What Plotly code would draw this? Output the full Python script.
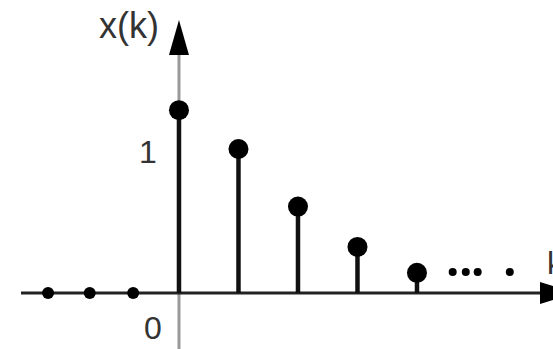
import plotly.graph_objects as go

# ---- data ----
k_pos = [0, 1, 2, 3, 4]
x_pos = [1.27, 1.0, 0.60, 0.32, 0.14]
k_neg = [-2.2, -1.5, -0.77]
x_neg = [0, 0, 0]
ellipsis_k = [4.6, 4.82, 5.02, 5.56]
ellipsis_x = [0.146, 0.146, 0.146, 0.146]

W, H = 553, 349
X0, X1 = -3.008, 6.286
Y0, Y1 = -0.389, 2.035
PX = W / (X1 - X0)   # pixels per unit k
PY = H / (Y1 - Y0)   # pixels per unit x(k)

def dx(p):
    return p / PX

def dy(p):
    return p / PY

fig = go.Figure()

# stems
sx, sy = [], []
for k, v in zip(k_pos, x_pos):
    sx += [k, k, None]
    sy += [0, v, None]
fig.add_trace(go.Scatter(x=sx, y=sy, mode="lines",
                         line=dict(color="#111", width=4.5), hoverinfo="skip"))
fig.add_trace(go.Scatter(x=k_pos, y=x_pos, mode="markers",
                         marker=dict(color="#000", size=20)))
fig.add_trace(go.Scatter(x=k_neg, y=x_neg, mode="markers",
                         marker=dict(color="#000", size=12)))
fig.add_trace(go.Scatter(x=ellipsis_k, y=ellipsis_x, mode="markers",
                         marker=dict(color="#000", size=8)))

tip_y = 1.896
shapes = [
    # vertical axis (gray)
    dict(type="line", xref="x", yref="y", x0=0, x1=0, y0=Y0, y1=tip_y - dy(20),
         line=dict(color="#9a9a9a", width=3), layer="below"),
    # horizontal axis
    dict(type="line", xref="x", yref="y", x0=X0 + dx(21), x1=X0 + dx(545), y0=0, y1=0,
         line=dict(color="#222", width=3), layer="below"),
    # up arrow head
    dict(type="path", xref="x", yref="y",
         path=f"M {-dx(10)},{tip_y - dy(35)} L {dx(10)},{tip_y - dy(35)} L 0,{tip_y} Z",
         fillcolor="#000", line=dict(width=0)),
    # right arrow head
    dict(type="path", xref="x", yref="y",
         path=f"M {X0 + dx(540)},{-dy(11)} L {X0 + dx(540)},{dy(11)} L {X0 + dx(575)},0 Z",
         fillcolor="#000", line=dict(width=0)),
]

font = dict(family="Liberation Sans, Arial, sans-serif", color="#333")
annotations = [
    dict(x=0, y=1.86, xref="x", yref="y", text="x(k)", showarrow=False,
         xanchor="right", yanchor="middle", xshift=-18, font=dict(size=36, **font)),
    dict(x=0, y=1.0, xref="x", yref="y", text="1", showarrow=False,
         xanchor="right", yanchor="middle", xshift=-20, yshift=-3, font=dict(size=32, **font)),
    dict(x=0, y=0, xref="x", yref="y", text="0", showarrow=False,
         xanchor="right", yanchor="middle", xshift=-15, yshift=-35, font=dict(size=32, **font)),
    dict(x=X0 + dx(545), y=dy(30), xref="x", yref="y", text="k", showarrow=False,
         xanchor="left", yanchor="middle", font=dict(size=32, **font)),
]

fig.update_layout(
    width=W, height=H, margin=dict(l=0, r=0, t=0, b=0),
    paper_bgcolor="white", plot_bgcolor="white", showlegend=False,
    xaxis=dict(range=[X0, X1], visible=False, fixedrange=True),
    yaxis=dict(range=[Y0, Y1], visible=False, fixedrange=True),
    shapes=shapes, annotations=annotations,
)

fig.write_html("out.html", config={"displayModeBar": False})
